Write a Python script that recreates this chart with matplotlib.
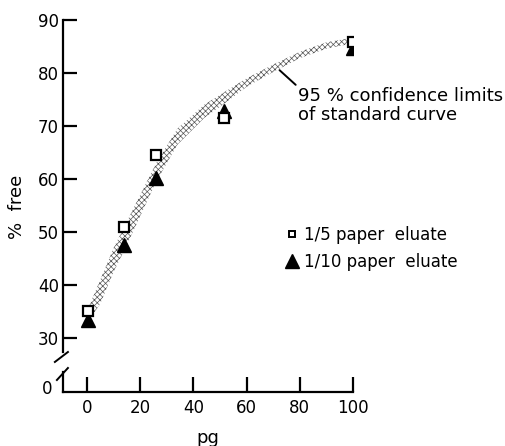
import numpy as np
import matplotlib
matplotlib.use("Agg")
import matplotlib.pyplot as plt
from matplotlib.lines import Line2D

# measured points, % free vs pg
pg = [0.5, 14, 26, 51.5, 100]
free_fifth = [35.2, 51.0, 64.5, 71.5, 85.8]
free_tenth = [33.4, 47.6, 60.3, 72.8, 84.8]

# 95% confidence band of the standard curve
band_pg = [1, 5, 10, 14, 20, 26, 34, 44, 51, 60, 70, 80, 90, 99]
band_lo = [33.5, 36.5, 42.5, 46.5, 53.0, 59.5, 66.5, 71.5, 74.0, 77.4, 80.2, 82.8, 84.6, 85.5]
band_hi = [36.3, 41.0, 47.0, 51.0, 57.0, 63.0, 69.5, 74.0, 76.2, 79.0, 81.6, 84.0, 85.8, 86.6]

x_ticks = [0, 20, 40, 60, 80, 100]
y_ticks = [30, 40, 50, 60, 70, 80, 90]

plt.rcParams["font.family"] = "DejaVu Sans"
plt.rcParams["hatch.linewidth"] = 0.5
plt.rcParams["hatch.color"] = "#555555"

W, H = 505, 446
fig = plt.figure(figsize=(W / 100, H / 100), dpi=100)

# upper panel (30-90) and a thin lower strip for the zero, with a break between
ax = fig.add_axes([63 / W, 1 - 352 / H, 290 / W, 332 / H])
ax_lo = fig.add_axes([63 / W, 1 - 392 / H, 290 / W, 20 / H], sharex=ax)

for a in (ax, ax_lo):
    a.patch.set_alpha(0)
    for s in ("top", "right"):
        a.spines[s].set_visible(False)
    a.spines["left"].set_linewidth(1.6)
    a.spines["bottom"].set_linewidth(1.6)

ax.spines["bottom"].set_visible(False)
ax.set_xlim(-9, 100)
ax.set_ylim(27.4, 90)
ax.set_yticks(y_ticks)
ax.tick_params(axis="y", direction="in", length=10, width=1.6, labelsize=12, pad=3)
ax.tick_params(axis="x", bottom=False, labelbottom=False)

ax_lo.set_ylim(-0.95, 2.8)
ax_lo.set_yticks([0])
ax_lo.tick_params(axis="y", length=0, labelsize=12, pad=8)
ax_lo.set_xticks(x_ticks)
ax_lo.tick_params(axis="x", direction="in", length=11, width=1.6, labelsize=12, pad=5)
ax_lo.set_xlabel("pg", fontsize=13, labelpad=9)

# break marks on the y axis
ax.plot([-0.028, 0.017], [-0.03, 0.0], transform=ax.transAxes, color="black",
        lw=1.4, clip_on=False)
ax_lo.plot([-0.021, 0.017], [0.6, 1.2], transform=ax_lo.transAxes, color="black",
           lw=1.4, clip_on=False)

fig.text(17 / W, 1 - 207 / H, "%  free", rotation=90, fontsize=13,
         ha="center", va="center")

# stippled confidence band
ax.fill_between(band_pg, band_lo, band_hi, facecolor="white", edgecolor="#555555",
                hatch="xxxxxx", linewidth=0, zorder=1)

ax.plot(pg, free_tenth, linestyle="none", marker="^", ms=10, color="black", zorder=3)
ax.plot(pg, free_fifth, linestyle="none", marker="s", ms=7, mfc="white",
        mec="black", mew=1.6, zorder=4)

ax.annotate("95 % confidence limits\nof standard curve",
            xy=(72, np.interp(72, band_pg, band_lo)), xytext=(79.5, 77.3),
            fontsize=13, ha="left", va="top", linespacing=1.05,
            arrowprops=dict(arrowstyle="-", lw=1.4, color="black",
                            relpos=(0, 1), shrinkA=0, shrinkB=1),
            annotation_clip=False)

handles = [
    Line2D([], [], linestyle="none", marker="s", ms=5, mfc="white", mec="black", mew=1.4),
    Line2D([], [], linestyle="none", marker="^", ms=10, color="black"),
]
ax.legend(handles, ["1/5 paper  eluate", "1/10 paper  eluate"],
          loc="upper left", bbox_to_anchor=((286 - 63) / 290, (352 - 226) / 332),
          frameon=False, fontsize=12, handlelength=0.7, handletextpad=0.35,
          labelspacing=0.55, borderaxespad=0, borderpad=0)

fig.savefig("out.png", dpi=100)
